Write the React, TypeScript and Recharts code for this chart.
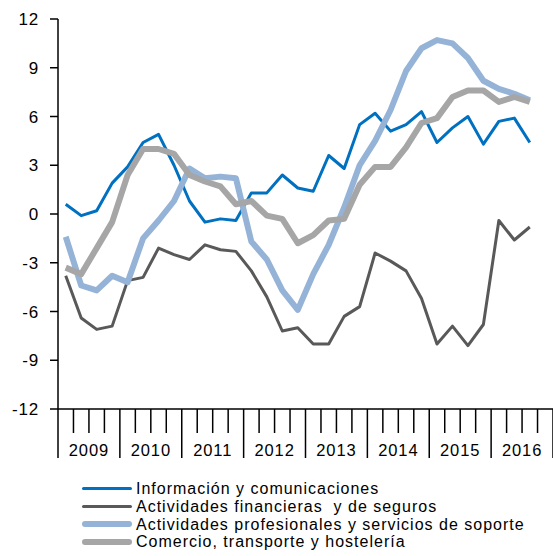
import { Line, LineChart, XAxis, YAxis } from "recharts";

const quarters = [
  "2009T1", "2009T2", "2009T3", "2009T4",
  "2010T1", "2010T2", "2010T3", "2010T4",
  "2011T1", "2011T2", "2011T3", "2011T4",
  "2012T1", "2012T2", "2012T3", "2012T4",
  "2013T1", "2013T2", "2013T3", "2013T4",
  "2014T1", "2014T2", "2014T3", "2014T4",
  "2015T1", "2015T2", "2015T3", "2015T4",
  "2016T1", "2016T2", "2016T3",
];

const years = ["2009", "2010", "2011", "2012", "2013", "2014", "2015", "2016"];

const informacion = [
  0.6, -0.1, 0.2, 1.9, 2.9, 4.4, 4.9, 3.0, 0.8, -0.5, -0.3, -0.4, 1.3, 1.3, 2.4, 1.6,
  1.4, 3.6, 2.8, 5.5, 6.2, 5.1, 5.5, 6.3, 4.4, 5.3, 6.0, 4.3, 5.7, 5.9, 4.4,
];

const financieras = [
  -3.8, -6.4, -7.1, -6.9, -4.1, -3.9, -2.1, -2.5, -2.8, -1.9, -2.2, -2.3, -3.5, -5.1, -7.2, -7.0,
  -8.0, -8.0, -6.3, -5.7, -2.4, -2.9, -3.5, -5.2, -8.0, -6.9, -8.1, -6.8, -0.4, -1.6, -0.8,
];

const profesionales = [
  -1.4, -4.4, -4.7, -3.8, -4.2, -1.5, -0.4, 0.8, 2.8, 2.2, 2.3, 2.2, -1.7, -2.8, -4.7, -5.9,
  -3.7, -1.9, 0.4, 3.0, 4.5, 6.4, 8.8, 10.2, 10.7, 10.5, 9.6, 8.2, 7.7, 7.4, 7.0,
];

const comercio = [
  -3.3, -3.7, -2.1, -0.5, 2.4, 4.0, 4.0, 3.7, 2.4, 2.0, 1.7, 0.6, 0.8, -0.1, -0.3, -1.8,
  -1.3, -0.4, -0.3, 1.8, 2.9, 2.9, 4.1, 5.6, 5.9, 7.2, 7.6, 7.6, 6.9, 7.2, 6.9,
];

const yTicks = [-12, -9, -6, -3, 0, 3, 6, 9, 12];

const series = [
  { key: "info", name: "Información y comunicaciones", color: "#0070C0", width: 3 },
  { key: "fin", name: "Actividades financieras  y de seguros", color: "#595959", width: 3 },
  { key: "prof", name: "Actividades profesionales y servicios de soporte", color: "#95B3D7", width: 6 },
  { key: "com", name: "Comercio, transporte y hostelería", color: "#A6A6A6", width: 6 },
];

const data = quarters.map((q, i) => ({
  x: i + 0.5,
  q,
  info: informacion[i],
  fin: financieras[i],
  prof: profesionales[i],
  com: comercio[i],
}));

const quarterTicks = Array.from({ length: 33 }, (_, i) => i);

const FONT = "'Liberation Sans', Arial, sans-serif";

function QuarterTick(props: any) {
  const { x, y, payload } = props;
  const k = payload.value as number;
  const isYear = k % 4 === 0;
  return (
    <g>
      <line x1={x} y1={y} x2={x} y2={y + (isYear ? 49 : 24)} stroke="#000" strokeWidth={1.5} />
      {k % 4 === 2 && (
        <text
          x={x}
          y={y + 41}
          textAnchor="middle"
          dominantBaseline="central"
          fontFamily={FONT}
          fontSize={16.5}
          letterSpacing={0.9}
          fill="#000"
        >
          {years[(k - 2) / 4]}
        </text>
      )}
    </g>
  );
}

export default function App() {
  return (
    <div style={{ position: "absolute", left: 0, top: 0, width: 553, height: 556, background: "#fff" }}>
      <LineChart
        width={553}
        height={556}
        data={data}
        margin={{ top: 19, right: 0, bottom: 87, left: 0 }}
      >
        <XAxis
          type="number"
          dataKey="x"
          domain={[0, 32]}
          ticks={quarterTicks}
          interval={0}
          tickLine={false}
          tickSize={0}
          tickMargin={0}
          height={60}
          axisLine={{ stroke: "#000", strokeWidth: 1.5 }}
          tick={<QuarterTick />}
        />
        <YAxis
          type="number"
          domain={[-12, 12]}
          ticks={yTicks}
          interval={0}
          width={58}
          tickSize={8}
          tickMargin={11}
          tickLine={{ stroke: "#000", strokeWidth: 1.5 }}
          axisLine={{ stroke: "#000", strokeWidth: 1.5 }}
          tick={{ fill: "#000", fontSize: 17, fontFamily: FONT, letterSpacing: 0.8 }}
        />
        {series.map((s) => (
          <Line
            key={s.key}
            type="linear"
            dataKey={s.key}
            name={s.name}
            stroke={s.color}
            strokeWidth={s.width}
            strokeLinejoin="round"
            dot={false}
            activeDot={false}
            isAnimationActive={false}
          />
        ))}
      </LineChart>
      <div style={{ position: "absolute", left: 0, top: 0, fontFamily: FONT }}>
        {series.map((s, r) => (
          <div
            key={s.key}
            style={{ position: "absolute", left: 82, top: 480 + r * 17.8, height: 17, width: 460 }}
          >
            <div
              style={{
                position: "absolute",
                left: 0,
                top: 8.5 - s.width / 2,
                width: 50,
                height: s.width,
                borderRadius: s.width / 2,
                background: s.color,
              }}
            />
            <span
              style={{
                position: "absolute",
                left: 54,
                top: 0,
                fontSize: 16,
                lineHeight: "17px",
                letterSpacing: 1.0,
                whiteSpace: "pre",
                color: "#000",
              }}
            >
              {s.name}
            </span>
          </div>
        ))}
      </div>
    </div>
  );
}
